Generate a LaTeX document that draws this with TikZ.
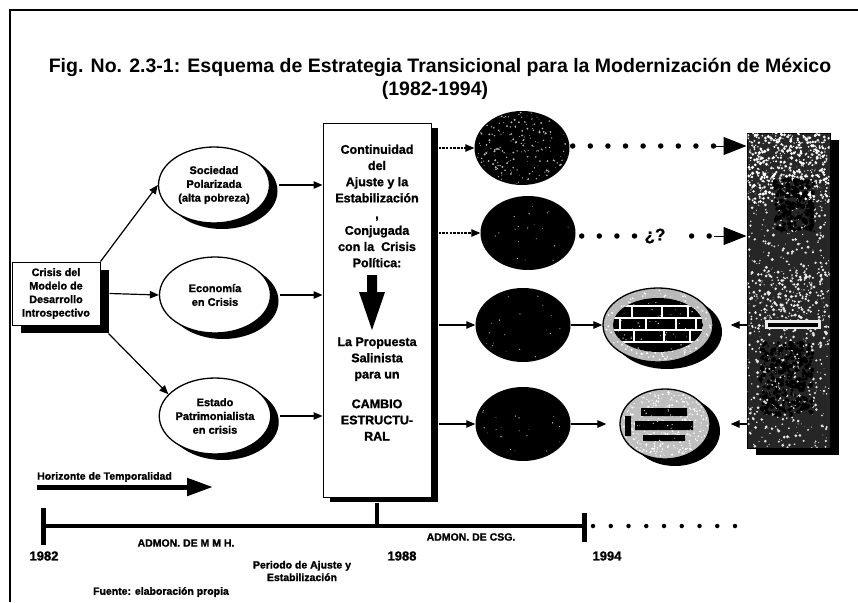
\documentclass[tikz,border=0pt]{standalone}
\usepackage{fontspec}
\setmainfont{Liberation Sans}[BoldFeatures={FakeBold=1.3}]
\newfontfamily\titlefont{Liberation Sans}
\usetikzlibrary{arrows.meta,shapes.geometric,shadows}

% scatter #4 grains of colour #5 (radius up to #6) in a box of half-size #2 x #3 round #1
\newcommand\grains[6]{%
  \foreach \k in {1,...,#4}{%
    \fill[#5] ([shift={({(2*rnd-1)*#2},{(2*rnd-1)*#3})}]#1) circle ({0.35+rnd*#6});
  }}

\begin{document}
\begin{tikzpicture}[x=1pt,y=-1pt,
  hv/.style={font=\titlefont\bfseries\fontsize{#1}{#1}\selectfont},
  lbl/.style={inner sep=0pt, align=center, font=\bfseries\fontsize{10.5}{13}\selectfont},
  year/.style={inner sep=0pt, font=\bfseries\fontsize{13}{13}\selectfont},
  oval/.style={ellipse, draw, line width=1.3pt, fill=white, minimum width=111pt,
    minimum height=76pt, inner sep=0pt, align=center,
    font=\bfseries\fontsize{11}{13.8}\selectfont,
    drop shadow={shadow xshift=8pt, shadow yshift=-6pt, opacity=1, fill=black}},
  darkoval/.style={ellipse, fill=black, minimum width=95pt, minimum height=74pt, inner sep=0pt},
  ctext/.style={inner sep=0pt, align=center, font=\bfseries\fontsize{12.5}{16.2}\selectfont},
  arr/.style={line width=1.2pt, -{Triangle[length=9pt,width=7.5pt]}},
  darr/.style={arr, dash pattern=on 2.5pt off 1.2pt},
  dotrow/.style={line width=5.5pt, line cap=round, dash pattern=on 0pt off 17.6pt},
  bigtip/.style={line width=1pt, -{Triangle[length=23pt,width=18pt]}},
  bar/.style={line width=4.5pt}
]
\useasboundingbox (0,0) rectangle (858,602);
\fill[white] (0,0) rectangle (858,602);

% frame
\draw[line width=1.3pt] (10,602) -- (10,10) -- (858,10);

% title
\node[hv=19.5, inner sep=0pt] (title) at (440,67)
  {Fig. No. 2.3-1: Esquema de Estrategia Transicional para la Modernización de México};
\node[hv=19.5, inner sep=0pt] (period) at (435,90) {(1982-1994)};

% starting crisis box
\node[draw, line width=1pt, fill=white, minimum width=88pt, minimum height=63pt,
  inner sep=0pt, align=center, font=\bfseries\fontsize{10.8}{13.5}\selectfont,
  drop shadow={shadow xshift=9pt, shadow yshift=-8pt, opacity=1, fill=black}]
  (lbox) at (56,293.5) {Crisis del\\Modelo de\\Desarrollo\\Introspectivo};

% the three crises
\node[oval] (e1) at (214,185) {Sociedad\\Polarizada\\(alta pobreza)};
\node[oval] (e2) at (215,295) {Economía\\en Crisis};
\node[oval] (e3) at (215,416) {Estado\\Patrimonialista\\en crisis};

\draw[arr] (lbox.north east) -- (e1.west);
\draw[arr] ([xshift=9pt]lbox.east) -- (e2.west);
\draw[arr] ([shift={(8,8)}]lbox.south east) -- (e3.155);

% central strategy box
\node[draw, line width=1pt, fill=white, minimum width=108pt, minimum height=374pt,
  inner sep=0pt, drop shadow={shadow xshift=7pt, shadow yshift=-5pt, opacity=1, fill=black}]
  (cbox) at (377,310) {};
\node[ctext] (ct1) at (377,206)
  {Continuidad\\del\\Ajuste y la\\Estabilización\\,\\Conjugada\\con la~~Crisis\\Política:};
\node[ctext] (ct2) at (377,389)
  {La Propuesta\\Salinista\\para un\\[13.5pt]CAMBIO\\ESTRUCTU-\\RAL};
\fill (367,275) -- (377,275) -- (377,292) -- (385,292) -- (372,330) -- (359,292)
  -- (367,292) -- cycle;

\draw[arr] ([xshift=9pt]e1.east) -- (e1.east -| cbox.west);
\draw[arr] ([xshift=9pt]e2.east) -- (e2.east -| cbox.west);
\draw[arr] ([xshift=9pt]e3.east) -- (e3.east -| cbox.west);

% outcomes
\node[darkoval] (d1) at (522,148) {};
\node[darkoval] (d2) at (528,233) {};
\node[darkoval] (d3) at (523,325) {};
\node[darkoval] (d4) at (523,424) {};
\begin{scope}
  \clip (d1.center) ellipse [x radius=46, y radius=36];
  \pgfmathsetseed{11}
  \grains{d1.center}{46}{36}{220}{gray!55}{0.8}
\end{scope}
\begin{scope}
  \clip (d2.center) ellipse [x radius=44, y radius=34];
  \grains{d2.center}{44}{34}{25}{gray!50}{0.4}
\end{scope}
\begin{scope}
  \clip (d3.center) ellipse [x radius=44, y radius=34];
  \grains{d3.center}{44}{34}{25}{gray!50}{0.4}
\end{scope}
\begin{scope}
  \clip (d4.center) ellipse [x radius=44, y radius=34];
  \grains{d4.center}{44}{34}{25}{gray!50}{0.4}
\end{scope}

\draw[darr] ([xshift=7pt]cbox.east |- d1) -- (d1.west);
\draw[darr] ([xshift=7pt]cbox.east |- d2) -- (d2.west);
\draw[arr] ([xshift=7pt]cbox.east |- d3) -- (d3.west);
\draw[arr] ([xshift=7pt]cbox.east |- d4) -- (d4.west);

% final modernisation box
\node[draw, line width=1pt, fill=black!85, minimum width=83pt, minimum height=315pt,
  inner sep=0pt, drop shadow={shadow xshift=9pt, shadow yshift=-7pt, opacity=1, fill=black}]
  (rbox) at (788.5,290.5) {};
\coordinate (rtop) at ([yshift=-35pt]rbox.north);
\coordinate (rlow) at ([shift={(12,60)}]rbox.south);
\coordinate (rband) at ([yshift=-10pt]rbox.center);
\coordinate (rdark1) at ([shift={(6,-85)}]rbox.center);
\coordinate (rdark2) at ([shift={(-2,88)}]rbox.center);
\begin{scope}
  \clip ([shift={(1,1)}]rbox.north west) rectangle ([shift={(-1,-1)}]rbox.south east);
  \pgfmathsetseed{7}
  \grains{rbox.center}{41}{157}{700}{white!80!gray}{1.3}
  \grains{rtop}{41}{35}{450}{white}{1.4}
  \grains{rband}{41}{30}{200}{white!85!gray}{1.3}
  \grains{rlow}{30}{60}{350}{white!90!gray}{1.4}
  \grains{rdark1}{20}{26}{260}{black}{2.2}
  \grains{rdark2}{26}{36}{420}{black}{2.2}
  \grains{rdark2}{26}{36}{40}{white!80!gray}{0.8}
  \fill[white!85!gray] ([shift={(-24,-5)}]rbox.center |- d3) rectangle ([shift={(32,4)}]rbox.center |- d3);
  \fill[black] ([shift={(-21,-2.5)}]rbox.center |- d3) rectangle ([shift={(29,1.5)}]rbox.center |- d3);
\end{scope}

% dotted continuations
\coordinate (r1end) at (714,146);
\coordinate (r2end) at (714,236);
\node[inner sep=0pt, font=\bfseries\fontsize{17}{17}\selectfont] (q) at (655,236) {¿?};
\draw[dotrow] ([xshift=3pt]d1.east |- r1end) -- (r1end);
\draw[bigtip] (r1end) -- (rbox.west |- r1end);
\draw[dotrow] ([xshift=6pt]d2.east |- r2end) -- ([xshift=-2pt]q.west |- r2end);
\draw[dotrow] ([xshift=26pt]q.east |- r2end) -- (r2end);
\draw[bigtip] (r2end) -- (rbox.west |- r2end);

% institutional reforms
\node[ellipse, draw, line width=1.3pt, fill=gray!55, minimum width=110pt, minimum height=74pt,
  inner sep=0pt, drop shadow={shadow xshift=9pt, shadow yshift=-7pt, opacity=1, fill=black}]
  (p3) at (658,325) {};
\begin{scope}
  \clip (p3.center) ellipse [x radius=53, y radius=35];
  \pgfmathsetseed{3}
  \grains{p3.center}{53}{35}{380}{white}{0.8}
  \clip (p3.center) ellipse [x radius=45, y radius=27];
  \fill[black] (p3.center) ellipse [x radius=45, y radius=27];
  \draw[white, line width=1.2pt, shift={(p3.center)}]
    (-50,-19) -- (50,-19) (-50,-7) -- (50,-7) (-50,5) -- (50,5) (-50,17) -- (50,17)
    (-26,-19) -- (-26,-7) (4,-19) -- (4,-7) (30,-19) -- (30,-7)
    (-38,-7) -- (-38,5) (-12,-7) -- (-12,5) (18,-7) -- (18,5) (38,-7) -- (38,5)
    (-24,5) -- (-24,17) (6,5) -- (6,17) (32,5) -- (32,17);
  \grains{p3.center}{45}{27}{60}{white!80!gray}{0.4}
\end{scope}

\node[ellipse, draw, line width=1.3pt, fill=gray!50, minimum width=90pt, minimum height=70pt,
  inner sep=0pt, drop shadow={shadow xshift=10pt, shadow yshift=-7pt, opacity=1, fill=black}]
  (p4) at (665,424) {};
\begin{scope}
  \clip (p4.center) ellipse [x radius=43, y radius=33];
  \pgfmathsetseed{5}
  \grains{p4.center}{43}{33}{420}{white}{0.8}
  \fill[black, shift={(p4.center)}]
    (-24,-16) rectangle (22,-8) (-30,-3) rectangle (28,6) (-22,11) rectangle (20,17)
    (-40,-8) rectangle (-34,12);
  \grains{p4.center}{30}{18}{40}{white!80!gray}{0.4}
\end{scope}

\draw[arr] (d3.east) -- (p3.west);
\draw[arr] (d4.east) -- ([xshift=-13pt]p4.west);
\draw[arr] (rbox.west |- p3) -- ([xshift=17pt]p3.east);
\draw[arr] (rbox.west |- p4) -- ([xshift=20pt]p4.east);

% time horizon
\node[lbl, anchor=west] (hz) at (37,477) {Horizonte de Temporalidad};
\coordinate (hzs) at (37,487);
\coordinate (hze) at (213,487);
\draw[line width=5pt, -{Triangle[length=26pt,width=17pt]}] (hzs) -- (hze);

\coordinate (t82) at (43,526);
\coordinate (t94) at (584,526);
\draw[bar] (t82) -- (t94);
\draw[line width=5pt] ([yshift=18pt]t82) -- ([yshift=-19pt]t82);
\draw[line width=5pt] ([yshift=13pt]t94) -- ([yshift=-16pt]t94);
\draw[line width=4pt] ([yshift=-5pt]cbox.south) -- (cbox.south |- t82);
\draw[line width=4.5pt, line cap=round, dash pattern=on 0pt off 17.75pt]
  ([xshift=9pt]t94) -- ([xshift=152pt]t94);

\node[year] (y82) at (44,556) {1982};
\node[year] (y88) at (402,556) {1988};
\node[year] (y94) at (607,556) {1994};
\node[lbl] (mmh) at (186,543) {ADMON. DE M M H.};
\node[lbl] (csg) at (471,537) {ADMON. DE CSG.};
\node[lbl, font=\bfseries\fontsize{10.5}{12.5}\selectfont] (aj) at (302,571)
  {Periodo de Ajuste y\\Estabilización};
\node[lbl] (src) at (161,592) {Fuente: elaboración propia};
\end{tikzpicture}
\end{document}
